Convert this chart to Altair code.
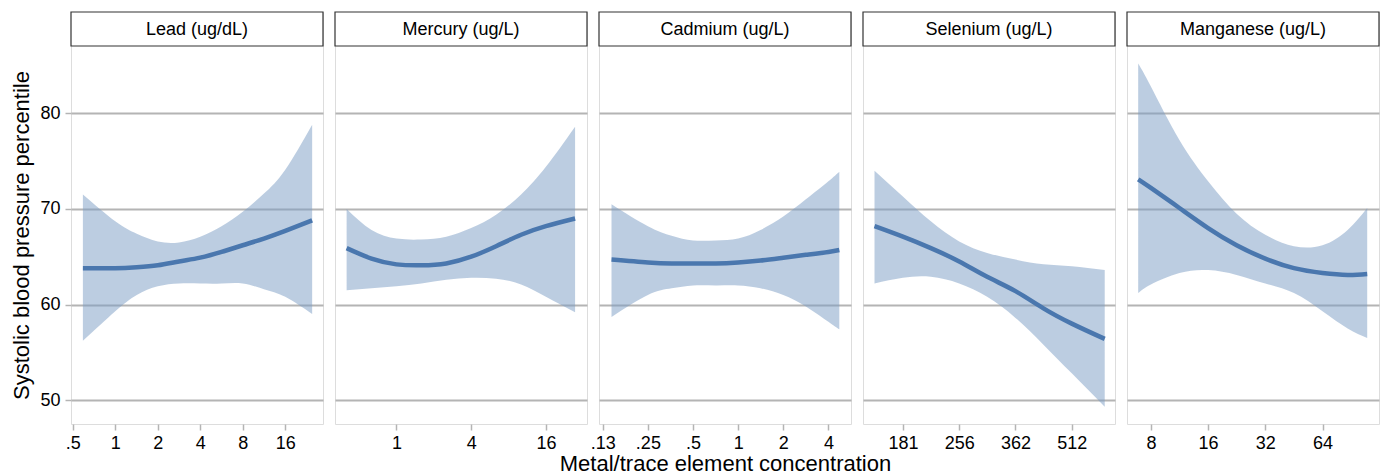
import altair as alt
import pandas as pd

FONT = "Liberation Sans"
W, H = 252, 412          # panel (header strip + plot)
HEAD = 34                # header strip height
Y_DOMAIN = [47.5, 90.6]
Y_TICKS = [50, 60, 70, 80]

# ---------------- data ----------------
titles = ["Lead (ug/dL)", "Mercury (ug/L)", "Cadmium (ug/L)", "Selenium (ug/L)", "Manganese (ug/L)"]

lead_x = [0.59, 1, 1.42, 2, 2.83, 4, 5.66, 8, 11.3, 16, 24.8]
lead_mid = [63.8, 63.8, 63.9, 64.1, 64.5, 64.9, 65.5, 66.2, 66.9, 67.7, 68.8]
lead_hi = [71.5, 68.7, 67.4, 66.6, 66.5, 67.1, 68.2, 69.7, 71.6, 74.1, 78.8]
lead_lo = [56.2, 59.3, 61.0, 61.9, 62.2, 62.2, 62.2, 62.2, 61.6, 60.8, 59.0]

merc_x = [0.397, 0.63, 1, 1.59, 2.52, 4, 6.35, 10.1, 16, 27.5]
merc_mid = [65.9, 64.8, 64.2, 64.1, 64.3, 65.0, 66.1, 67.3, 68.2, 69.0]
merc_hi = [70.0, 67.8, 66.9, 66.8, 67.1, 68.0, 69.4, 71.5, 74.4, 78.6]
merc_lo = [61.5, 61.7, 61.9, 62.2, 62.6, 62.8, 62.7, 62.1, 60.8, 59.2]

cad_x = [0.143, 0.25, 0.36, 0.5, 0.71, 1, 1.41, 2, 2.83, 4, 4.73]
cad_mid = [64.7, 64.4, 64.3, 64.3, 64.3, 64.4, 64.6, 64.9, 65.2, 65.5, 65.7]
cad_hi = [70.5, 68.2, 67.2, 66.7, 66.7, 66.9, 67.8, 69.2, 71.0, 72.9, 73.9]
cad_lo = [58.7, 61.0, 61.7, 62.0, 62.0, 62.0, 61.7, 61.0, 59.8, 58.2, 57.4]

sel_x = [152, 181, 215, 256, 304, 362, 430, 512, 627]
sel_mid = [68.2, 67.1, 65.9, 64.5, 62.9, 61.4, 59.6, 58.0, 56.4]
sel_hi = [74.0, 71.3, 68.7, 66.6, 65.4, 64.7, 64.2, 64.0, 63.6]
sel_lo = [62.2, 62.8, 62.9, 62.2, 60.8, 58.6, 55.8, 52.8, 49.3]

man_x = [6.86, 8, 11.3, 16, 22.6, 32, 45.3, 64, 86.8, 110]
man_mid = [73.1, 72.2, 70.1, 68.0, 66.2, 64.8, 63.8, 63.3, 63.1, 63.2]
man_hi = [85.2, 82.8, 77.2, 72.9, 69.5, 67.3, 66.1, 66.2, 67.8, 70.1]
man_lo = [61.2, 62.1, 63.3, 63.6, 63.1, 62.2, 61.2, 59.3, 57.5, 56.5]

x_domains = [[0.486, 29.6], [0.32, 34.3], [0.118, 5.66], [141.6, 668], [5.99, 126.9]]
tick_values = [
    [0.5, 1, 2, 4, 8, 16],
    [1, 4, 16],
    [0.125, 0.25, 0.5, 1, 2, 4],
    [181.02, 256, 362.04, 512],
    [8, 16, 32, 64],
]
tick_labels = [
    [".5", "1", "2", "4", "8", "16"],
    ["1", "4", "16"],
    [".13", ".25", ".5", "1", "2", "4"],
    ["181", "256", "362", "512"],
    ["8", "16", "32", "64"],
]

series = [
    (lead_x, lead_mid, lead_lo, lead_hi),
    (merc_x, merc_mid, merc_lo, merc_hi),
    (cad_x, cad_mid, cad_lo, cad_hi),
    (sel_x, sel_mid, sel_lo, sel_hi),
    (man_x, man_mid, man_lo, man_hi),
]

BAND = "#7a9cc4"
LINE = "#4a77ae"
GRID = "#b4b4b4"
INTERP = "natural"


def label_expr(vals, labs):
    expr = "''"
    for v, l in reversed(list(zip(vals, labs))):
        expr = f"abs(datum.value - {v}) < {v * 0.02} ? '{l}' : ({expr})"
    return expr


def panel(i):
    xs, mid, lo, hi = series[i]
    df = pd.DataFrame({"x": xs, "mid": mid, "lo": lo, "hi": hi})
    xscale = alt.Scale(type="log", base=2, domain=x_domains[i], nice=False, zero=False)
    yscale = alt.Scale(domain=Y_DOMAIN, nice=False, zero=False)

    xaxis = alt.Axis(
        values=tick_values[i],
        labelExpr=label_expr(tick_values[i], tick_labels[i]),
        grid=False, domain=False,
        tickSize=6, tickColor=GRID, tickWidth=1.5,
        labelFontSize=18, labelPadding=4, labelColor="black", labelFont=FONT,
        title="Metal/trace element concentration" if i == 2 else None,
        titleFontSize=22, titleFontWeight="normal", titleFont=FONT, titleColor="black",
        titlePadding=1,
    )
    if i == 0:
        yaxis = alt.Axis(
            values=Y_TICKS, grid=True, gridColor=GRID, gridWidth=2,
            domain=False, tickSize=6, tickColor=GRID, tickWidth=1.5,
            labelFontSize=18, labelPadding=5, labelColor="black", labelFont=FONT,
            title="Systolic blood pressure percentile",
            titleFontSize=22, titleFontWeight="normal", titleFont=FONT, titleColor="black",
            titlePadding=6, titleY=HEAD + (H - HEAD) / 2,
        )
    else:
        yaxis = alt.Axis(
            values=Y_TICKS, grid=True, gridColor=GRID, gridWidth=2,
            domain=False, ticks=False, labels=False, title=None,
        )

    base = alt.Chart(df)
    band = base.mark_area(color=BAND, opacity=0.5, interpolate=INTERP).encode(
        x=alt.X("x:Q", scale=xscale, axis=xaxis),
        y=alt.Y("lo:Q", scale=yscale, axis=yaxis),
        y2="hi:Q",
    )
    line = base.mark_line(color=LINE, strokeWidth=4.5, interpolate=INTERP).encode(
        x=alt.X("x:Q", scale=xscale),
        y=alt.Y("mid:Q", scale=yscale),
    )
    hdf = pd.DataFrame({"t": [titles[i]]})
    head_box = alt.Chart(hdf).mark_rect(fill="white", stroke="#333333", strokeWidth=1.2).encode(
        x=alt.value(0), x2=alt.value(W), y=alt.value(0), y2=alt.value(HEAD)
    )
    head_txt = alt.Chart(hdf).mark_text(fontSize=18, font=FONT, color="black", baseline="middle").encode(
        x=alt.value(W / 2), y=alt.value(HEAD / 2 + 1), text="t:N"
    )
    return alt.layer(band, line, head_box, head_txt).properties(width=W, height=H)


chart = (
    alt.hconcat(*[panel(i) for i in range(5)], spacing=12, bounds="flush")
    .resolve_scale(x="independent")
    .properties(padding={"left": 10, "top": 10, "right": 2, "bottom": 0})
    .configure_view(stroke="#c2c2c2", strokeWidth=1.5)
    .configure(background="white")
)

chart.save("out.html", embed_options={"renderer": "svg", "actions": False})
